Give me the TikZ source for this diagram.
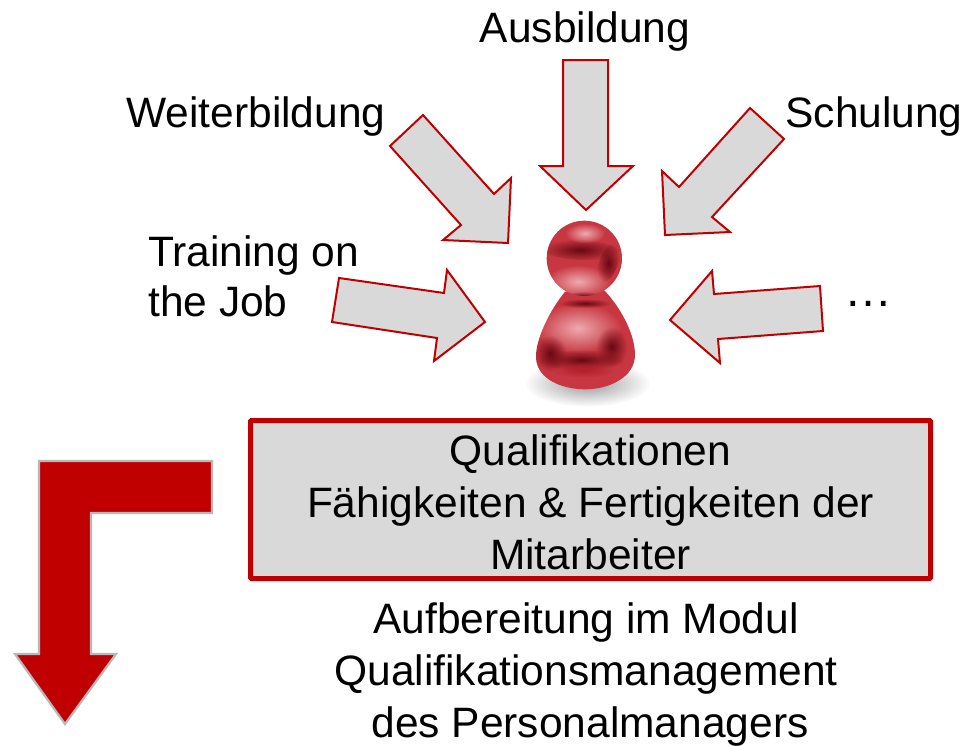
\documentclass[tikz,border=0pt]{standalone}
\usepackage{fontspec}
\setmainfont{Liberation Sans}
\usetikzlibrary{shadings,fadings}
\definecolor{dred}{RGB}{192,0,0}
\definecolor{lgray}{RGB}{217,217,217}
\definecolor{pbase}{RGB}{200,55,65}
\definecolor{pdark}{RGB}{105,8,18}
\definecolor{ppale}{RGB}{238,170,175}
\definecolor{pmid}{RGB}{178,30,40}
\tikzfading[name=fuzzy,inner color=transparent!0,outer color=transparent!100]
\newcommand{\blob}[6]{\fill[#5,path fading=fuzzy,rotate around={#6:(#1,#2)}] (#1,#2) ellipse ({#3} and {#4});}
\tikzset{
 inarrow/.style={draw=dred,fill=lgray,line width=2pt,line join=miter},
 lab/.style={font=\fontsize{42.5}{52}\selectfont,inner sep=0pt,align=center},
 lableft/.style={lab,align=left,anchor=west,font=\fontsize{42.5}{50}\selectfont},
 bigarrow/.style={draw=black!28,fill=dred,line width=2.2pt,line join=miter},
 redbox/.style={draw=dred,fill=lgray,line width=5pt,rounded corners=1pt,minimum width=680pt,minimum height=158pt,inner sep=0pt,align=center,font=\fontsize{42.5}{52}\selectfont}
}
\begin{document}
\begin{tikzpicture}[x=1pt,y=-1pt]
\useasboundingbox (0,0) rectangle (965,745);
% arrows
\draw[inarrow] (563,60)--(608,60)--(608,166)--(633,166)--(586,210)--(540,166)--(563,166)--cycle;
\draw[inarrow] (423,115)--(390,146)--(461,225)--(443,240)--(508,243)--(511,178)--(494,194)--cycle;
\draw[inarrow] (750,108)--(784,139)--(712,217)--(730,232)--(665,235)--(662,171)--(679,187)--cycle;
\draw[inarrow] (339,278)--(332,322)--(437,338)--(434,361)--(485,322)--(447,270)--(444,293)--cycle;
\draw[inarrow] (820,286)--(823,331)--(718,339)--(720,363)--(670,320)--(712,271)--(714,294)--cycle;
% person
\begin{scope}[shift={(500,200)},x=0.3333pt,y=-0.3333pt]
 \blob{262}{550}{190}{70}{black!40}{0}
 % body
 \begin{scope}
  \clip (195,275) .. controls (150,330) and (105,420) .. (108,475) .. controls (112,540) and (190,568) .. (255,568) .. controls (330,568) and (405,530) .. (405,465) .. controls (405,400) and (360,320) .. (312,270) -- cycle;
  \fill[pbase] (60,260) rectangle (450,600);
  \blob{235}{385}{130}{75}{ppale}{0}
  \blob{150}{460}{50}{55}{pdark}{0}
  \blob{335}{440}{48}{60}{pdark}{0}
  \blob{245}{480}{130}{32}{pdark}{0}
  \blob{250}{510}{95}{24}{pmid}{0}
  \blob{255}{310}{80}{14}{pdark}{0}
 \end{scope}
 % head
 \begin{scope}
  \clip (253,175) circle (113);
  \fill[pbase] (130,50) rectangle (380,300);
  \blob{235}{245}{100}{50}{ppale}{0}
  \blob{240}{150}{120}{30}{pdark}{-3}
  \blob{325}{190}{28}{60}{pdark}{-20}
  \blob{255}{100}{60}{30}{ppale}{0}
  \blob{250}{290}{60}{16}{pdark}{0}
 \end{scope}
\end{scope}
% box
\node[redbox] (box) at (590.5,499.5) {\raisebox{-14pt}[0pt][0pt]{\begin{tabular}{@{}c@{}}Qualifikationen\\Fähigkeiten \& Fertigkeiten der\\Mitarbeiter\end{tabular}}};
% big arrow
\draw[bigarrow] (39,461)--(212,461)--(212,513)--(91,513)--(91,654)--(116,654)--(65,724)--(15,654)--(39,654)--cycle;
% labels
\node[lab] (aus) at (585,32) {Ausbildung};
\node[lab] (wei) at (256,117) {Weiterbildung};
\node[lab] (sch) at (874,117) {Schulung};
\node[lableft] (tr) at (148,276) {Training on\\the Job};
\node[lab,font=\fontsize{48}{52}\selectfont] (dots) at (868,304) {…};
\node[lab] (auf) at (586,674) {Aufbereitung im Modul\\Qualifikationsmanagement\\\hspace*{8pt}des Personalmanagers};
\end{tikzpicture}
\end{document}
